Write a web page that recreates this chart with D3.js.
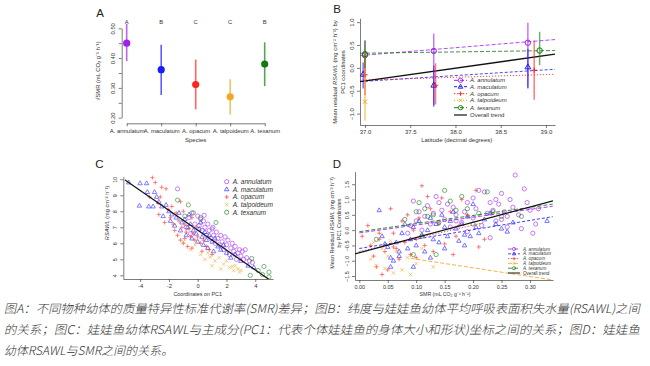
<!DOCTYPE html>
<html><head><meta charset="utf-8">
<script src="https://cdn.jsdelivr.net/npm/d3@7"></script>
<style>body{margin:0;background:#fff}svg{display:block}</style>
</head><body>
<script>
// ---------------- DATA ----------------
const species = ["A. annulatum","A. maculatum","A. opacum","A. talpoideum","A. texanum"];
const speciesColors = ["#a020f0","#1a1aff","#ff2222","#f0a820","#137a13"];
const markerTypes = ["circle","triangle","plus","cross","circle"];

// Panel A: sqrt(SMR) mean and interval per species
const smrMean = [0.450, 0.361, 0.311, 0.270, 0.380];
const smrLow  = [0.390, 0.276, 0.228, 0.211, 0.306];
const smrHigh = [0.515, 0.445, 0.395, 0.329, 0.453];
const groupLetters = ["A","B","C","C","B"];
const aTicks = [0.20,0.25,0.30,0.35,0.40,0.45,0.50];
const aLabelled = [0.20,0.30,0.40,0.50];

// Panel B: [latitude, mean residual, low, high]
const bAnnulatum  = [[37.00,0.28,-0.10,0.60],[37.76,0.37,-0.81,0.75],[38.80,0.55,-0.43,0.99]];
const bMaculatum  = [[36.98,-0.14,-0.45,0.12],[37.76,-0.38,-0.85,0.05],[38.80,0.02,-0.45,0.42]];
const bOpacum     = [[37.00,-0.15,-0.60,0.30],[37.78,-0.38,-0.80,0.10],[38.87,-0.05,-0.70,0.60]];
const bTalpoideum = [[37.00,-0.74,-1.15,0.45]];
const bTexanum    = [[37.00,0.30,0.00,0.60],[38.93,0.38,0.06,0.79]];
const bTrendStart = [0.27,-0.30,-0.27,null,0.32]; // at latitude 36.945
const bTrendEnd   = [0.62,-0.03,-0.14,null,0.38]; // at latitude 39.1
const bOverall    = [-0.30, 0.30];
const bXTicks = [37.0,37.5,38.0,38.5,39.0];
const bYTicks = [-1.0,-0.5,0.0,0.5,1.0];

// Panel C: [PC1, RSAWL]
const cAnnulatum = [[-1.4,9.4],[-0.6,7.6],[-0.3,7.9],[0,7.7],[0.2,7.5],[0.4,7.4],[0.5,7.0],[0.7,7.2],[0.8,6.8],[1.0,6.9],[1.1,6.5],[1.3,6.7],[1.4,6.3],[1.6,6.5],[1.7,6.1],[1.9,6.4],[2.0,5.9],[2.1,6.2],[2.3,5.7],[2.4,6.0],[2.5,5.5],[2.6,5.8],[2.8,5.4],[2.9,5.6],[3.0,5.2],[3.1,5.5],[3.3,5.6],[3.4,5.1],[3.6,4.9],[3.8,4.8],[2.2,5.3],[1.5,5.9],[0.9,6.3],[0.3,6.8],[-0.2,7.2],[-0.8,7.0],[0.6,6.5],[1.2,6.0],[2.7,5.0],[3.2,5.0],[1.8,5.6],[0.1,7.1],[-0.5,6.6],[0.45,7.75],[1.05,7.0]];
const cMaculatum = [[-4.8,9.8],[-4.0,9.75],[-3.55,9.75],[-3.5,9.2],[-3.0,9.2],[-2.85,8.9],[-4.05,8.35],[-3.4,8.3],[-3.1,8.3],[-2.5,8.3],[-2.7,8.6],[-2.2,8.4],[-2.0,8.0],[-1.8,7.8],[-1.5,7.6],[-1.3,7.9],[-1.1,7.3],[-0.9,7.5],[-0.7,7.0],[-0.5,7.2],[-0.3,6.8],[-0.1,6.6],[0.1,6.9],[0.3,6.4],[0.5,6.7],[0.6,6.2],[0.8,6.5],[1.0,6.1],[1.2,6.3],[1.4,5.8],[1.6,5.6],[1.8,5.9],[2.0,5.4],[2.3,5.1],[2.6,5.3],[-1.6,7.1],[-1.2,6.8],[-0.8,6.5],[-0.4,6.3],[0.0,6.1],[0.4,5.9],[0.7,5.7],[-2.4,7.7],[-1.9,7.4],[0.2,7.3],[-0.6,7.8],[3.0,4.9],[3.5,4.6],[3.9,4.5],[1.1,5.5]];
const cOpacum = [[-3.15,10.1],[-2.95,9.8],[-2.2,9.4],[-2.5,9.5],[-3.35,8.9],[-2.75,8.5],[-2.05,8.1],[-2.7,7.8],[-1.7,7.2],[-1.9,7.6],[-1.5,7.9],[-1.3,7.4],[-1.1,7.0],[-0.9,7.2],[-0.8,6.7],[-0.6,6.9],[-0.5,6.4],[-0.3,6.6],[-0.2,6.2],[0.0,6.4],[0.2,6.0],[0.4,6.2],[0.6,5.8],[-1.6,6.8],[-1.4,6.5],[-1.2,6.2],[-1.0,6.0],[-0.7,5.8],[-0.4,5.7],[-1.8,8.3],[-1.0,8.0],[-0.4,7.6],[0.3,5.5],[0.8,5.6],[-2.3,7.3],[-1.2,8.6],[-0.1,7.0],[1.0,5.3],[-2.6,8.9],[-0.9,6.3]];
const cTalpoideum = [[0.85,5.15],[1.2,4.9],[1.5,5.1],[1.8,4.7],[2.0,4.9],[2.2,4.5],[2.4,4.55],[2.5,4.3],[2.6,4.6],[2.8,4.4],[3.0,4.3],[1.0,4.6],[0.5,5.0],[0.2,5.3],[-0.5,5.6],[-1.0,6.1],[1.6,4.4],[2.9,4.2],[0.7,5.4],[-0.2,5.9]];
const cTexanum = [[-1.4,8.7],[-0.65,8.4],[-0.4,7.9],[1.27,7.3],[0.2,7.6],[-0.9,7.7],[3.75,5.05],[4.6,4.55],[4.95,4.2],[4.95,3.9],[3.65,4.0],[4.2,4.3],[4.5,4.05]];
const cLine = [[-5.05,9.96],[4.97,3.73]];
const cXTicks = [-4,-2,0,2,4];
const cYTicks = [4,5,6,7,8,9,10];

// Panel D: [SMR, mean residual RSAWL]
const dAnnulatum = [[0.274,1.8],[0.29,1.35],[0.25,1.2],[0.245,0.85],[0.265,1.0],[0.27,0.75],[0.3,0.65],[0.31,0.2],[0.305,-0.1],[0.285,0.05],[0.26,0.45],[0.24,0.3],[0.23,0.9],[0.22,1.25],[0.21,1.3],[0.2,1.05],[0.19,0.9],[0.185,0.6],[0.18,0.25],[0.17,0.5],[0.165,0.75],[0.16,0.1],[0.15,0.35],[0.145,0.65],[0.14,0.9],[0.13,0.55],[0.125,0.2],[0.12,0.8],[0.115,0.45],[0.11,0.0],[0.105,0.6],[0.1,0.3],[0.095,0.95],[0.09,0.15],[0.085,-0.1],[0.2,0.4],[0.215,0.15],[0.225,0.55],[0.235,0.65],[0.25,0.35],[0.255,0.6],[0.28,0.5],[0.295,0.9],[0.23,-0.25],[0.19,-0.05],[0.17,0.3],[0.155,0.85],[0.135,1.1],[0.205,0.7],[0.24,1.0],[0.26,0.1],[0.315,0.7]];
const dMaculatum = [[0.035,0.65],[0.04,-0.2],[0.05,-0.55],[0.055,-0.9],[0.06,-1.0],[0.065,-0.4],[0.07,-0.7],[0.075,-0.1],[0.08,0.2],[0.085,-0.6],[0.09,-0.3],[0.095,0.1],[0.1,-0.5],[0.105,0.3],[0.11,-0.15],[0.115,-0.7],[0.12,0.0],[0.125,0.4],[0.13,-0.3],[0.135,0.2],[0.14,-0.4],[0.145,0.5],[0.15,0.1],[0.155,-0.2],[0.16,0.3],[0.165,0.6],[0.17,0.05],[0.175,-0.35],[0.18,0.2],[0.185,-0.15],[0.19,0.45],[0.195,-0.2],[0.2,0.85],[0.205,0.1],[0.21,-0.1],[0.22,0.35],[0.23,0.55],[0.24,0.2],[0.25,0.05],[0.26,-0.05],[0.27,0.25],[0.33,0.3],[0.055,-1.2],[0.07,-0.85],[0.045,-0.45],[0.095,-1.2],[0.125,-0.9],[0.15,-0.6],[0.185,-0.5]];
const dOpacum = [[0.005,-0.2],[0.015,0.15],[0.02,-0.5],[0.025,-0.85],[0.03,-1.2],[0.035,-0.3],[0.04,-1.45],[0.045,-0.7],[0.05,-1.3],[0.055,0.7],[0.06,-0.1],[0.065,-0.6],[0.07,-0.95],[0.075,0.3],[0.08,-0.4],[0.085,0.5],[0.09,-0.8],[0.095,0.0],[0.1,-0.3],[0.105,0.4],[0.11,1.45],[0.115,-0.5],[0.12,1.1],[0.125,0.7],[0.13,-0.7],[0.14,0.2],[0.145,1.05],[0.15,-0.45],[0.16,0.6],[0.165,-0.8],[0.17,-0.2],[0.18,1.0],[0.19,0.5],[0.205,1.3],[0.21,-0.55],[0.22,-0.3],[0.035,-0.1],[0.06,-0.55],[0.1,-0.9],[0.175,0.15]];
const dTalpoideum = [[0.02,-0.95],[0.03,-1.15],[0.04,-0.6],[0.045,-1.25],[0.05,-0.85],[0.06,-1.4],[0.065,-0.7],[0.075,-1.3],[0.085,-0.9],[0.1,-1.1],[0.11,-0.6],[0.13,-1.2],[0.025,-0.4],[0.09,-1.45],[0.055,-0.35]];
const dTexanum = [[0.03,-0.3],[0.08,0.35],[0.095,-0.8],[0.1,0.6],[0.105,0.9],[0.115,0.7],[0.12,0.45],[0.13,0.5],[0.14,0.25],[0.15,1.3],[0.16,0.95],[0.17,0.65],[0.18,1.1],[0.19,0.7],[0.2,0.2],[0.21,0.55],[0.225,1.25],[0.235,0.6],[0.25,0.45],[0.285,0.45],[0.11,-0.2],[0.135,-0.8]];
const dTrends = [[[0.0,-0.09],[0.34,0.78]],[[0.0,-0.6],[0.34,0.44]],[[0.0,-0.7],[0.22,0.25]],[[0.09,-0.92],[0.34,-1.63]],[[0.0,-0.05],[0.34,0.85]]];
const dOverall = [[-0.0076,-0.78],[0.3405,0.96]];
const dXTicks = [0,0.05,0.10,0.15,0.20,0.25,0.30];
const dYTicks = [-1.5,-1.0,-0.5,0,0.5,1.0,1.5];

const captionLines = [
  "图A：不同物种幼体的质量特异性标准代谢率(SMR)差异；图B：纬度与娃娃鱼幼体平均呼吸表面积失水量(RSAWL)之间",
  "的关系；图C：娃娃鱼幼体RSAWL与主成分(PC1：代表个体娃娃鱼的身体大小和形状)坐标之间的关系；图D：娃娃鱼",
  "幼体RSAWL与SMR之间的关系。"
];

// ---------------- DRAWING ----------------
const FONT = "'Liberation Sans', Arial, sans-serif";
const TXT = "#333";
const svg = d3.select("body").append("svg").attr("width",650).attr("height",366)
  .style("font-family",FONT);
svg.append("rect").attr("width",650).attr("height",366).attr("fill","#fff");

function marker(g, type, x, y, s, color, sw) {
  sw = sw || 0.8;
  if (type === "circle") {
    g.append("circle").attr("cx",x).attr("cy",y).attr("r",s).attr("fill","none").attr("stroke",color).attr("stroke-width",sw);
  } else if (type === "triangle") {
    g.append("path").attr("d",`M${x},${y-s*1.15}L${x+s*1.05},${y+s*0.7}L${x-s*1.05},${y+s*0.7}Z`).attr("fill","none").attr("stroke",color).attr("stroke-width",sw);
  } else if (type === "plus") {
    g.append("path").attr("d",`M${x-s},${y}H${x+s}M${x},${y-s}V${y+s}`).attr("stroke",color).attr("stroke-width",sw);
  } else {
    const k = s*0.8;
    g.append("path").attr("d",`M${x-k},${y-k}L${x+k},${y+k}M${x-k},${y+k}L${x+k},${y-k}`).attr("stroke",color).attr("stroke-width",sw);
  }
}

function styleAxis(g, fs) {
  g.selectAll("path.domain").attr("stroke","#444").attr("stroke-width",0.7);
  g.selectAll(".tick line").attr("stroke","#444").attr("stroke-width",0.7);
  g.selectAll("text").attr("font-size",fs).attr("fill",TXT).attr("font-family",FONT);
}
function rotateY(g, off) {
  g.selectAll(".tick text").attr("x",null).attr("dy",null).attr("text-anchor","middle")
    .attr("transform",`translate(${-off},0) rotate(-90)`);
}
function vlabel(x, y, txt, fs) {
  const t = svg.append("text").attr("transform",`translate(${x},${y}) rotate(-90)`)
    .attr("text-anchor","middle").attr("font-size",fs).attr("fill",TXT);
  txt.forEach(part => {
    const ts = t.append("tspan").text(part.t);
    if (part.i) ts.attr("font-style","italic");
  });
  return t;
}
function panelLetter(x,y,l){ svg.append("text").attr("x",x).attr("y",y).attr("text-anchor","middle")
  .attr("font-size",11.5).attr("fill","#222").text(l); }

// ===== Panel A =====
const xA = d3.scalePoint().domain(species).range([126.7,264.7]);
const yA = d3.scaleLinear().domain([0.2,0.5]).range([117.7,28.3]);
const gAy = svg.append("g").attr("transform","translate(121.7,0)")
  .call(d3.axisLeft(yA).tickValues(aTicks).tickSize(3).tickSizeOuter(0)
    .tickFormat(d => aLabelled.some(v=>Math.abs(v-d)<1e-9) ? d3.format(".2f")(d) : ""));
styleAxis(gAy,5.8); rotateY(gAy,6.5);
const gAx = svg.append("g").attr("transform","translate(0,123.3)")
  .call(d3.axisBottom(xA).tickSize(3).tickSizeOuter(0).tickPadding(2.5));
styleAxis(gAx,5.9);
species.forEach((s,i) => {
  const x = xA(s);
  svg.append("line").attr("x1",x).attr("x2",x).attr("y1",yA(smrLow[i])).attr("y2",yA(smrHigh[i]))
    .attr("stroke",speciesColors[i]).attr("stroke-opacity",0.7).attr("stroke-width",1.6);
  svg.append("circle").attr("cx",x).attr("cy",yA(smrMean[i])).attr("r",3.6).attr("fill",speciesColors[i]);
  svg.append("text").attr("x",x).attr("y",23.8).attr("text-anchor","middle").attr("font-size",5.8)
    .attr("fill",TXT).text(groupLetters[i]);
});
svg.append("text").attr("x",195.7).attr("y",142).attr("text-anchor","middle").attr("font-size",6).attr("fill",TXT).text("Species");
vlabel(100.3,71,[{t:"√SMR (mL CO₂ g⁻¹ h⁻¹)"}],5.8);
panelLetter(100,17,"A");

// ===== Panel B =====
const xB = d3.scaleLinear().domain([36.945,39.1]).range([360,555]);
const yB = d3.scaleLinear().domain([-1.25,1.085]).range([125,18.3]);
const gBy = svg.append("g").attr("transform","translate(360,0)")
  .call(d3.axisLeft(yB).tickValues(bYTicks).tickSize(3).tickSizeOuter(0).tickFormat(d3.format(".1f")));
styleAxis(gBy,6); rotateY(gBy,6.5);
const gBx = svg.append("g").attr("transform","translate(0,125)")
  .call(d3.axisBottom(xB).tickValues(bXTicks).tickSize(3).tickSizeOuter(0).tickFormat(d3.format(".1f")).tickPadding(2));
styleAxis(gBx,6);
const bSets = [bAnnulatum,bMaculatum,bOpacum,bTalpoideum,bTexanum];
const bDash = ["4,2","3,2","1.2,1.8","1.2,1.8","4,2"];
const gB = svg.append("g");
bSets.forEach((set,i) => {
  if (bTrendStart[i] !== null) {
    gB.append("line").attr("x1",xB(36.945)).attr("x2",xB(39.1))
      .attr("y1",yB(bTrendStart[i])).attr("y2",yB(bTrendEnd[i]))
      .attr("stroke",speciesColors[i]).attr("stroke-width",1).attr("stroke-dasharray",bDash[i]).attr("stroke-opacity",0.8);
  }
});
gB.append("line").attr("x1",xB(36.945)).attr("x2",xB(39.1)).attr("y1",yB(bOverall[0])).attr("y2",yB(bOverall[1]))
  .attr("stroke","#111").attr("stroke-width",1.3);
bSets.forEach((set,i) => {
  set.forEach(d => {
    gB.append("line").attr("x1",xB(d[0])).attr("x2",xB(d[0])).attr("y1",yB(d[2])).attr("y2",yB(d[3]))
      .attr("stroke",speciesColors[i]).attr("stroke-opacity",0.6).attr("stroke-width",1.5);
    marker(gB, markerTypes[i], xB(d[0]), yB(d[1]), 2.7, speciesColors[i], 1);
  });
});
// legend B
const bLegY = [80.3,86.7,93.7,100.3,107.7];
species.forEach((s,i) => {
  gB.append("line").attr("x1",454).attr("x2",467).attr("y1",bLegY[i]).attr("y2",bLegY[i])
    .attr("stroke",speciesColors[i]).attr("stroke-width",1).attr("stroke-dasharray",bDash[i]);
  marker(gB, markerTypes[i], 460.5, bLegY[i], 2.2, speciesColors[i], 0.9);
  gB.append("text").attr("x",470).attr("y",bLegY[i]+2).attr("font-size",6).attr("font-style","italic").attr("fill",TXT).text(s);
});
gB.append("line").attr("x1",454).attr("x2",467).attr("y1",115).attr("y2",115).attr("stroke","#111").attr("stroke-width",1.2);
gB.append("text").attr("x",470).attr("y",117).attr("font-size",6).attr("fill",TXT).text("Overall trend");
svg.append("text").attr("x",456.7).attr("y",142).attr("text-anchor","middle").attr("font-size",6).attr("fill",TXT).text("Latitude (decimal degrees)");
vlabel(337,72,[{t:"Mean residual "},{t:"RSAWL",i:true},{t:" (mg cm⁻² h⁻¹) by"}],5.9);
vlabel(344.7,72,[{t:"PC1 coordinates"}],5.9);
panelLetter(337,12.5,"B");

// ===== Panel C =====
const xC = d3.scaleLinear().domain([-5.17,5.23]).range([123.3,273]);
const yC = d3.scaleLinear().domain([3.77,10.16]).range([279,176.7]);
const gCy = svg.append("g").attr("transform","translate(123.3,0)")
  .call(d3.axisLeft(yC).tickValues(cYTicks).tickSize(3).tickSizeOuter(0).tickFormat(d3.format("d")));
styleAxis(gCy,5.5); rotateY(gCy,6.5);
const gCx = svg.append("g").attr("transform","translate(0,279)")
  .call(d3.axisBottom(xC).tickValues(cXTicks).tickSize(3).tickSizeOuter(0).tickFormat(d => d<0 ? "-"+Math.abs(d) : d).tickPadding(2));
styleAxis(gCx,5.8);
svg.append("clipPath").attr("id","clipC").append("rect").attr("x",123.3).attr("y",174).attr("width",150).attr("height",105);
const gC = svg.append("g").attr("clip-path","url(#clipC)");
const cSets = [cAnnulatum,cMaculatum,cOpacum,cTalpoideum,cTexanum];
cSets.forEach((set,i) => {
  const g = gC.append("g").attr("opacity",0.7);
  set.forEach(d => marker(g, markerTypes[i], xC(d[0]), yC(d[1]), 2.1, speciesColors[i], 0.8));
});
gC.append("line").attr("x1",xC(cLine[0][0])).attr("y1",yC(cLine[0][1])).attr("x2",xC(cLine[1][0])).attr("y2",yC(cLine[1][1]))
  .attr("stroke","#111").attr("stroke-width",1.2);
const cLegY = [181.7,189.3,197,204.7,212.3];
species.forEach((s,i) => {
  marker(svg.append("g").attr("opacity",0.8), markerTypes[i], 226.7, cLegY[i], 2.1, speciesColors[i], 0.8);
  svg.append("text").attr("x",232.7).attr("y",cLegY[i]+2.3).attr("font-size",6.6).attr("font-style","italic").attr("fill",TXT).text(s);
});
svg.append("text").attr("x",197.7).attr("y",295.5).attr("text-anchor","middle").attr("font-size",5.4).attr("fill",TXT).text("Coordinates on PC1");
vlabel(108.7,213,[{t:"RSAWL",i:true},{t:" (mg cm⁻² h⁻¹)"}],5.6);
panelLetter(99.3,168,"C");

// ===== Panel D =====
const xD = d3.scaleLinear().domain([-0.0076,0.3405]).range([355,553]);
const yD = d3.scaleLinear().domain([-1.63,1.91]).range([280,171.7]);
const gDy = svg.append("g").attr("transform","translate(355,0)")
  .call(d3.axisLeft(yD).tickValues(dYTicks).tickSize(3).tickSizeOuter(0).tickFormat(d3.format(".1f")));
styleAxis(gDy,5.5); rotateY(gDy,6.3);
const gDx = svg.append("g").attr("transform","translate(0,280)")
  .call(d3.axisBottom(xD).tickValues(dXTicks).tickSize(3).tickSizeOuter(0).tickFormat(d3.format(".2f")).tickPadding(2));
styleAxis(gDx,5.5);
svg.append("clipPath").attr("id","clipD").append("rect").attr("x",355).attr("y",171).attr("width",198).attr("height",109);
const gD = svg.append("g").attr("clip-path","url(#clipD)");
const dSets = [dAnnulatum,dMaculatum,dOpacum,dTalpoideum,dTexanum];
dSets.forEach((set,i) => {
  const g = gD.append("g").attr("opacity",0.75);
  set.forEach(d => marker(g, markerTypes[i], xD(d[0]), yD(d[1]), 2.1, speciesColors[i], 0.8));
});
const dDash = ["4,2","3,2","1.2,1.8","4,2","4,2"];
dTrends.forEach((t,i) => {
  gD.append("line").attr("x1",xD(t[0][0])).attr("y1",yD(t[0][1])).attr("x2",xD(t[1][0])).attr("y2",yD(t[1][1]))
    .attr("stroke",speciesColors[i]).attr("stroke-width",1).attr("stroke-dasharray",dDash[i]).attr("stroke-opacity",0.85);
});
gD.append("line").attr("x1",xD(dOverall[0][0])).attr("y1",yD(dOverall[0][1])).attr("x2",xD(dOverall[1][0])).attr("y2",yD(dOverall[1][1]))
  .attr("stroke","#111").attr("stroke-width",1.3);
const dLegY = [249,253.8,258.6,263.4,268.2];
species.forEach((s,i) => {
  svg.append("line").attr("x1",508).attr("x2",520).attr("y1",dLegY[i]).attr("y2",dLegY[i])
    .attr("stroke",speciesColors[i]).attr("stroke-width",0.8).attr("stroke-dasharray",dDash[i]);
  marker(svg.append("g"), markerTypes[i], 514, dLegY[i], 1.6, speciesColors[i], 0.7);
  svg.append("text").attr("x",523).attr("y",dLegY[i]+1.6).attr("font-size",4.6).attr("font-style","italic").attr("fill",TXT).text(s);
});
svg.append("line").attr("x1",508).attr("x2",520).attr("y1",273).attr("y2",273).attr("stroke","#111").attr("stroke-width",1);
svg.append("text").attr("x",523).attr("y",274.6).attr("font-size",4.6).attr("fill",TXT).text("Overall trend");
svg.append("text").attr("x",445).attr("y",295.5).attr("text-anchor","middle").attr("font-size",5.2).attr("fill",TXT).text("SMR (mL CO₂ g⁻¹ h⁻¹)");
vlabel(333.5,223,[{t:"Mean Residual "},{t:"RSAWL",i:true},{t:" (mg cm⁻² h⁻¹)"}],5.5);
vlabel(341,223,[{t:"by PC1 Coordinates"}],5.5);
panelLetter(337,168,"D");

// ===== Caption (slanted like the italic original) =====
const capY = [312.5,333.5,354.5];
const capLen = [636,636,null];
captionLines.forEach((line,i) => {
  const g = svg.append("g").attr("transform",`translate(4,${capY[i]}) skewX(-12)`);
  const t = g.append("text").attr("x",0).attr("y",0).attr("font-size",12)
    .attr("font-family","'Noto Sans CJK SC',sans-serif").attr("font-weight",300)
    .attr("fill","#333").text(line);
  if (capLen[i]) t.attr("textLength",capLen[i]).attr("lengthAdjust","spacingAndGlyphs");
});
</script>
</body></html>
